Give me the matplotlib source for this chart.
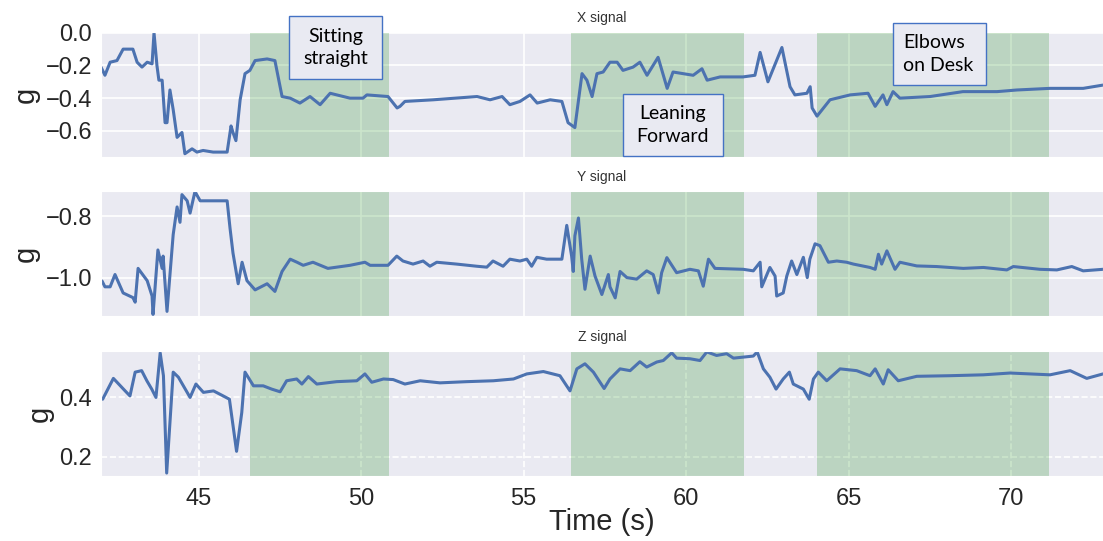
import matplotlib
matplotlib.use('Agg')
import matplotlib.pyplot as plt
import seaborn as sns
from matplotlib.patches import Rectangle
from matplotlib.ticker import MultipleLocator

# accelerometer traces, time in seconds and acceleration in g
x_time = [42.0, 42.12, 42.28, 42.49, 42.68, 42.98, 43.11, 43.26, 43.42, 43.57, 43.63,
          43.72, 43.78, 43.88, 43.97, 44.03, 44.12, 44.22, 44.34, 44.49, 44.58, 44.80,
          44.95, 45.14, 45.45, 45.88, 46.00, 46.06, 46.15, 46.28, 46.43, 46.58, 46.74,
          47.11, 47.35, 47.57, 47.82, 48.12, 48.43, 48.74, 49.05, 49.66, 50.06, 50.18,
          50.83, 51.11, 51.20, 51.35, 52.22, 53.57, 53.97, 54.34, 54.58, 54.89, 55.20,
          55.42, 55.82, 56.18, 56.37, 56.58, 56.80, 56.95, 57.11, 57.26, 57.45, 57.66,
          57.88, 58.06, 58.37, 58.58, 58.80, 59.14, 59.42, 59.60, 60.22, 60.49, 60.65,
          61.05, 61.75, 62.12, 62.28, 62.52, 62.95, 63.20, 63.35, 63.72, 63.82, 63.88,
          64.03, 64.43, 65.05, 65.60, 65.82, 66.06, 66.18, 66.37, 66.58, 67.51, 68.52,
          69.57, 70.18, 71.20, 72.22, 72.83]
x_g = [-0.21, -0.26, -0.18, -0.17, -0.10, -0.10, -0.18, -0.21, -0.18, -0.19, 0.0,
       -0.20, -0.29, -0.29, -0.55, -0.55, -0.35, -0.47, -0.64, -0.61, -0.74, -0.71,
       -0.73, -0.72, -0.73, -0.73, -0.57, -0.61, -0.66, -0.41, -0.25, -0.23, -0.17,
       -0.16, -0.17, -0.39, -0.40, -0.43, -0.39, -0.44, -0.37, -0.40, -0.40, -0.38,
       -0.39, -0.46, -0.45, -0.42, -0.41, -0.39, -0.41, -0.39, -0.44, -0.42, -0.38,
       -0.43, -0.41, -0.42, -0.55, -0.58, -0.25, -0.29, -0.39, -0.25, -0.24, -0.18,
       -0.18, -0.23, -0.21, -0.18, -0.26, -0.15, -0.34, -0.24, -0.26, -0.22, -0.29,
       -0.27, -0.27, -0.26, -0.12, -0.30, -0.09, -0.33, -0.38, -0.37, -0.33, -0.46,
       -0.51, -0.41, -0.38, -0.37, -0.45, -0.38, -0.44, -0.36, -0.40, -0.39, -0.36,
       -0.36, -0.35, -0.34, -0.34, -0.32]

y_time = [42.03, 42.12, 42.28, 42.43, 42.68, 42.98, 43.05, 43.14, 43.42, 43.57, 43.60,
          43.75, 43.88, 43.91, 44.03, 44.22, 44.34, 44.43, 44.49, 44.65, 44.74, 44.89,
          45.05, 45.45, 45.88, 45.97, 46.06, 46.22, 46.34, 46.49, 46.74, 47.11, 47.35,
          47.57, 47.82, 48.03, 48.22, 48.52, 48.98, 49.66, 50.12, 50.28, 50.83, 51.10,
          51.29, 51.60, 51.91, 52.12, 52.33, 52.94, 53.56, 53.87, 54.06, 54.37, 54.58,
          54.89, 55.10, 55.25, 55.41, 55.71, 56.18, 56.33, 56.48, 56.53, 56.58, 56.69,
          56.79, 56.89, 57.05, 57.20, 57.41, 57.61, 57.66, 57.82, 57.97, 58.18, 58.48,
          58.79, 58.99, 59.15, 59.25, 59.41, 59.71, 60.12, 60.38, 60.53, 60.69, 60.89,
          61.76, 62.07, 62.28, 62.33, 62.58, 62.74, 62.79, 62.99, 63.10, 63.25, 63.41,
          63.61, 63.73, 63.81, 63.97, 64.12, 64.38, 64.64, 64.94, 65.15, 65.66, 65.82,
          65.92, 66.02, 66.18, 66.43, 66.58, 67.10, 67.71, 68.53, 69.15, 69.87, 70.07,
          70.89, 71.41, 71.87, 72.22, 72.83]
y_g = [-1.011, -1.03, -1.03, -0.99, -1.05, -1.065, -1.08, -0.97, -1.01, -1.06, -1.12,
       -0.91, -0.97, -0.93, -1.11, -0.86, -0.77, -0.82, -0.73, -0.75, -0.79, -0.72,
       -0.75, -0.75, -0.75, -0.84, -0.92, -1.02, -0.95, -1.01, -1.04, -1.02, -1.045,
       -0.98, -0.94, -0.95, -0.96, -0.95, -0.97, -0.96, -0.95, -0.96, -0.96, -0.93,
       -0.946, -0.956, -0.946, -0.963, -0.95, -0.956, -0.963, -0.966, -0.946, -0.963, -0.94,
       -0.946, -0.94, -0.963, -0.934, -0.94, -0.94, -0.83, -0.93, -0.98, -0.864, -0.806,
       -0.94, -1.038, -0.93, -0.995, -1.055, -0.99, -1.03, -1.066, -0.98, -1.0, -1.005,
       -0.978, -0.99, -1.05, -0.984, -0.935, -0.984, -0.973, -0.978, -1.028, -0.94, -0.97,
       -0.973, -0.978, -0.95, -1.03, -0.967, -0.995, -1.06, -1.05, -0.995, -0.946, -0.99,
       -0.934, -1.0, -0.94, -0.89, -0.896, -0.95, -0.946, -0.95, -0.956, -0.967, -0.973,
       -0.924, -0.956, -0.913, -0.973, -0.95, -0.962, -0.964, -0.97, -0.967, -0.975, -0.964,
       -0.973, -0.975, -0.964, -0.978, -0.973]

z_time = [42.05, 42.38, 42.69, 42.89, 43.05, 43.25, 43.41, 43.56, 43.69, 43.82, 43.92,
          44.02, 44.12, 44.22, 44.38, 44.74, 44.92, 45.15, 45.46, 45.76, 45.95, 46.17,
          46.33, 46.43, 46.69, 46.99, 47.25, 47.51, 47.71, 48.02, 48.18, 48.38, 48.64,
          49.25, 49.87, 50.12, 50.33, 50.69, 50.99, 51.35, 51.82, 52.43, 53.25, 54.07,
          54.69, 55.10, 55.61, 56.12, 56.43, 56.64, 56.89, 57.15, 57.48, 57.66, 57.97,
          58.28, 58.58, 58.79, 59.10, 59.30, 59.56, 59.71, 60.12, 60.43, 60.64, 60.94,
          61.25, 61.46, 62.07, 62.19, 62.38, 62.58, 62.77, 62.99, 63.18, 63.30, 63.61,
          63.79, 63.92, 64.07, 64.33, 64.74, 65.25, 65.66, 65.82, 66.07, 66.22, 66.53,
          67.10, 68.12, 69.15, 69.97, 71.20, 71.82, 72.33, 72.83]
z_g = [0.394, 0.464, 0.428, 0.405, 0.485, 0.49, 0.456, 0.428, 0.40, 0.55, 0.473,
       0.146, 0.315, 0.485, 0.468, 0.40, 0.445, 0.417, 0.422, 0.405, 0.394, 0.219,
       0.349, 0.485, 0.439, 0.439, 0.428, 0.419, 0.456, 0.462, 0.445, 0.47, 0.445,
       0.453, 0.456, 0.479, 0.451, 0.462, 0.46, 0.445, 0.456, 0.449, 0.453, 0.456,
       0.462, 0.479, 0.487, 0.473, 0.422, 0.496, 0.513, 0.485, 0.43, 0.462, 0.496,
       0.49, 0.52, 0.502, 0.519, 0.524, 0.55, 0.532, 0.53, 0.524, 0.553, 0.541,
       0.547, 0.532, 0.539, 0.553, 0.496, 0.468, 0.428, 0.462, 0.485, 0.445, 0.428,
       0.394, 0.462, 0.485, 0.456, 0.496, 0.49, 0.473, 0.496, 0.445, 0.493, 0.456,
       0.471, 0.473, 0.476, 0.482, 0.476, 0.49, 0.464, 0.479]

# labelled posture intervals
posture_start = [46.58, 56.47, 64.03]
posture_end = [50.86, 61.77, 71.16]
posture_names = ['Sitting\nstraight', 'Leaning\nForward', 'Elbows\non Desk']

sns.set_style('darkgrid')
plt.rcParams['font.family'] = ['Liberation Sans', 'DejaVu Sans']

fig = plt.figure(figsize=(11.03, 5.41), dpi=100)

panels = [
    ('X signal', x_time, x_g, (-0.76, 0.005), 0.7098, '-'),
    ('Y signal', y_time, y_g, (-1.125, -0.718), 0.4159, '-'),
    ('Z signal', z_time, z_g, (0.136, 0.556), 0.1201, '--'),
]

axes = []
for title, t, g, ylim, bottom, grid_ls in panels:
    ax = fig.add_axes([0.0916, bottom, 0.9084, 0.2311])
    ax.grid(True, color='white', linestyle=grid_ls, linewidth=1.2)
    for s, e in zip(posture_start, posture_end):
        ax.axvspan(s, e, color='green', alpha=0.2, lw=0)
    ax.plot(t, g, color='#4C72B0', lw=2.2)
    ax.set_xlim(42.0, 72.83)
    ax.set_ylim(*ylim)
    ax.yaxis.set_major_locator(MultipleLocator(0.2))
    ax.xaxis.set_major_locator(MultipleLocator(5))
    ax.set_title(title, fontsize=10, color='#333333', pad=7)
    ax.set_ylabel('g', fontsize=21, labelpad=4)
    ax.tick_params(axis='y', labelsize=17, pad=3, colors='#262626')
    ax.tick_params(axis='x', labelsize=17, pad=5, colors='#262626')
    axes.append(ax)

for ax in axes[:-1]:
    ax.tick_params(axis='x', labelbottom=False)
axes[-1].set_xlabel('Time (s)', fontsize=21, labelpad=-1)

# callout boxes naming each posture (figure pixel boxes: left, top, right, bottom)
W, H = 1103.0, 541.0
boxes = [(289, 16, 382, 79, 'center'), (623, 94, 723, 156, 'center'),
         (893, 23, 986, 85, 'left')]
for (l, tp, r, b, ha), name in zip(boxes, posture_names):
    fig.patches.append(Rectangle((l / W, 1 - b / H), (r - l) / W, (b - tp) / H,
                                 transform=fig.transFigure, facecolor='#E9EAF2',
                                 edgecolor='#4472C4', lw=1.0, zorder=5))
    tx = (l + r) / 2 / W if ha == 'center' else (l + 10) / W
    fig.text(tx, 1 - (tp + b) / 2 / H, name, ha=ha, va='center', fontsize=14,
             family=['Lato', 'DejaVu Sans'], linespacing=1.4, color='black', zorder=6)

fig.savefig('out.png', dpi=100)
